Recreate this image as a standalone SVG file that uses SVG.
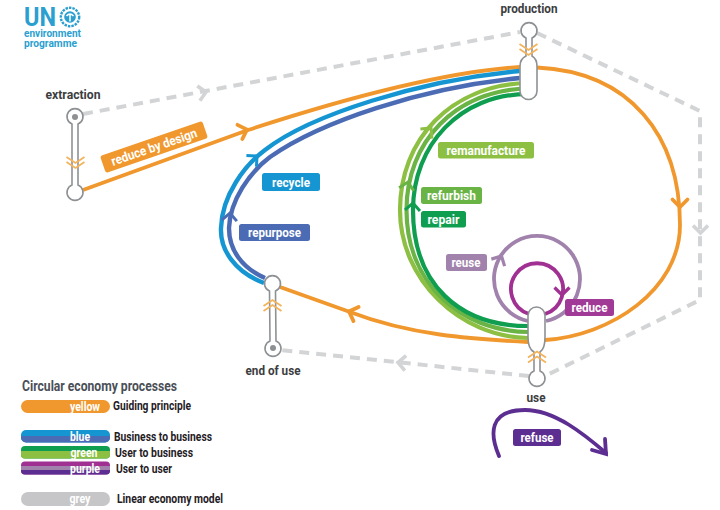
<svg xmlns="http://www.w3.org/2000/svg" xmlns:xlink="http://www.w3.org/1999/xlink" width="720" height="510" viewBox="0 0 720 510">
<style>
text{font-family:Roboto,"Liberation Sans",sans-serif;font-weight:700}
.l{fill:none;stroke-linecap:butt}
.a{fill:none;stroke-linecap:round;stroke-linejoin:miter}
.or{stroke:#f0982d;stroke-width:3.8}
.bl{stroke:#1596d2;stroke-width:4.4}
.in{stroke:#4b6cb4;stroke-width:4.4}
.li{stroke:#8dbf43;stroke-width:4.2}
.mi{stroke:#6ab345;stroke-width:4.2}
.dk{stroke:#0f9e50;stroke-width:4.2}
.ru{stroke:#a082ac;stroke-width:3.8}
.rd{stroke:#a03193;stroke-width:3.8}
.rf{stroke:#5d2e91;stroke-width:3.8;stroke-linecap:round}
.gr{stroke:#d3d4d6;stroke-width:4;stroke-dasharray:10 7;fill:none}
.gh{stroke:#d3d4d6;stroke-width:3.6;fill:none}
.n{fill:#fff;stroke:#8e9194;stroke-width:1.6}
.dot{fill:#8e9194}
.ch{fill:none;stroke:#f3b35c;stroke-width:1.8}
.nl{fill:#3c3d40;font-size:13px;text-anchor:middle}
.pl{fill:#fff;font-size:13px;text-anchor:middle}
.lg{fill:#1f2024;font-size:12.5px}
.lp{fill:#fff;font-size:13px;text-anchor:middle}
.logo{fill:#2a9fd0}
</style>
<defs>
<path id="ah" d="M-7.500,-7.500 L0,0 L-7.500,7.500"/>
<path id="cd" d="M-9,-5 L0,1 L9,-5 M-9,0 L0,6 L9,0"/>
</defs>

<g id="logo">
<text class="logo" x="24" y="26" font-size="25" textLength="32" lengthAdjust="spacingAndGlyphs">UN</text>
<circle cx="70" cy="17" r="9.200" fill="none" stroke="#2a9fd0" stroke-width="2.400" stroke-dasharray="2.500 1"/>
<circle cx="70" cy="17" r="5.800" fill="#2a9fd0"/>
<path d="M66.500,16 Q70,12 73.500,16 M70,14 V21.500" fill="none" stroke="#fff" stroke-width="1.500"/>
<text class="logo" x="24" y="37" font-size="10" textLength="57" lengthAdjust="spacingAndGlyphs">environment</text>
<text class="logo" x="24" y="47" font-size="10" textLength="53" lengthAdjust="spacingAndGlyphs">programme</text>
</g>

<g id="connectors">
<g id="linear">
<path class="gr" d="M83,114 L520,32"/>
<path class="gr" d="M537,33 L700,111 L700,300 L545,376"/>
<path class="gr" d="M529,376 L281,350"/>
<use xlink:href="#ah" class="gh" transform="translate(206,92) rotate(-10)"/>
<use xlink:href="#ah" class="gh" transform="translate(700.500,233) rotate(90)"/>
<use xlink:href="#ah" class="gh" transform="translate(398,362.500) rotate(185)"/>
</g>
<g id="orange">
<path class="l or" d="M83,190 L248,130 C340,100 440,72 520,67"/>
<path class="l or" d="M537,67.500 C630,72 680,135 680,225 C680,290 610,336 545,340"/>
<path class="l or" d="M528,342 C470,339 410,335 350,312 L280,287"/>
<use xlink:href="#ah" class="a or" transform="translate(247,129.500) rotate(-19)"/>
<use xlink:href="#ah" class="a or" transform="translate(680,207) rotate(90)"/>
<use xlink:href="#ah" class="a or" transform="translate(349,311.500) rotate(200)"/>
</g>
<g id="blue">
<path class="l bl" d="M264,283 C235,272 220,250 221,228 C222,195 245,165 265,150 C310,115 420,80 520,71"/>
<path class="l in" d="M265,278 C242,268 229,250 229,228 C230,200 250,172 270,157 C320,122 420,88 520,78"/>
<use xlink:href="#ah" stroke-width="3" stroke="#1596d2" fill="none" transform="translate(257,156) rotate(-42)"/>
<use xlink:href="#ah" stroke-width="3" stroke="#4b6cb4" fill="none" transform="translate(230,213) rotate(-85)"/>
</g>
<g id="green">
<path class="l li" d="M528,83 C450,85 400,140 400,210 C400,280 460,337 528,338"/>
<path class="l mi" d="M528,88.500 C455,90 406.500,142 406.500,210 C406.500,283 460,331 528,332"/>
<path class="l dk" d="M528,94 C460,94 413,145 413,210 C413,285 460,326 528,326"/>
<use xlink:href="#ah" stroke-width="3" stroke="#8dbf43" fill="none" transform="translate(431,128) rotate(-50)"/>
<use xlink:href="#ah" stroke-width="3" stroke="#6ab345" fill="none" transform="translate(408,182) rotate(-78)"/>
<use xlink:href="#ah" stroke-width="3" stroke="#0f9e50" fill="none" transform="translate(413,203) rotate(-86)"/>
</g>
<g id="purple">
<path class="l ru" d="M528,321 A43,43 0 1 1 546,321"/>
<path class="l rd" d="M529,314 A26,26 0 1 1 545,314"/>
<use xlink:href="#ah" stroke-width="3.200" stroke="#a082ac" fill="none" transform="translate(501.500,256) rotate(-62)"/>
<use xlink:href="#ah" stroke-width="3.200" stroke="#a03193" fill="none" transform="translate(562,295) rotate(90)"/>
<path class="l rf" d="M499,456 C490,435 488,410 525,410 C555,410 585,435 606,453"/>
<path class="a rf" d="M605,439 L606,454 L592,450"/>
</g>
</g>

<g id="extraction">
<path class="n" d="M72,124 A8,8 0 1 1 78,124 L78,185 A8,8 0 1 1 72,185 Z"/>
<circle class="dot" cx="75" cy="117" r="3"/>
<use xlink:href="#cd" class="ch" transform="translate(75.500,162)"/>
<text class="nl" x="73" y="99" textLength="55" lengthAdjust="spacingAndGlyphs">extraction</text>
</g>
<g id="production">
<path class="n" d="M526,38 A8,8 0 1 1 532,38 L532,56 Q537,59 537,66 L537,91 A8.500,8.500 0 0 1 520,91 L520,66 Q520,59 526,56 Z"/>
<use xlink:href="#cd" class="ch" transform="translate(528.500,49)"/>
<text class="nl" x="529" y="13" textLength="57" lengthAdjust="spacingAndGlyphs">production</text>
</g>
<g id="use">
<path class="n" d="M534,371 A8,8 0 1 0 540,371 L540,352 Q545,349 545,337 L545,315.500 A8.500,8.500 0 0 0 528,315.500 L528,337 Q528,349 534,352 Z"/>
<use xlink:href="#cd" class="ch" transform="translate(537,357.500) scale(1,-1)"/>
<text class="nl" x="536" y="402" textLength="19" lengthAdjust="spacingAndGlyphs">use</text>
</g>
<g id="end-of-use">
<path class="n" d="M269.500,291 A8,8 0 1 1 275.500,291 L276,341 A8,8 0 1 1 270,341 Z"/>
<circle class="dot" cx="273" cy="348" r="3"/>
<use xlink:href="#cd" class="ch" transform="translate(272.500,306) scale(1,-1)"/>
<text class="nl" x="273" y="375" textLength="55" lengthAdjust="spacingAndGlyphs">end of use</text>
</g>

<g id="reduce-by-design" transform="translate(154,147) rotate(-19)">
<rect x="-54" y="-9" width="108" height="18" rx="2.500" fill="#f0982d"/>
<text class="pl" y="4.500" textLength="90" lengthAdjust="spacingAndGlyphs">reduce by design</text>
</g>
<g id="remanufacture"><rect x="438" y="142" width="96" height="16.500" rx="2.500" fill="#8dbf43"/><text class="pl" x="486" y="154.500" textLength="79" lengthAdjust="spacingAndGlyphs">remanufacture</text></g>
<g id="refurbish"><rect x="421" y="187" width="61" height="17" rx="2.500" fill="#6ab345"/><text class="pl" x="451.500" y="200" textLength="49" lengthAdjust="spacingAndGlyphs">refurbish</text></g>
<g id="repair"><rect x="421" y="211" width="45" height="16.500" rx="2.500" fill="#0f9e50"/><text class="pl" x="443.500" y="224" textLength="32" lengthAdjust="spacingAndGlyphs">repair</text></g>
<g id="recycle"><rect x="262" y="173" width="58" height="18" rx="2.500" fill="#1596d2"/><text class="pl" x="291" y="186.500" textLength="38" lengthAdjust="spacingAndGlyphs">recycle</text></g>
<g id="repurpose"><rect x="239" y="224" width="71" height="17" rx="2.500" fill="#4b6cb4"/><text class="pl" x="274.500" y="237" textLength="53" lengthAdjust="spacingAndGlyphs">repurpose</text></g>
<g id="reuse"><rect x="446" y="254" width="41" height="17" rx="2.500" fill="#a082ac"/><text class="pl" x="466" y="267" textLength="29" lengthAdjust="spacingAndGlyphs">reuse</text></g>
<g id="reduce"><rect x="565" y="299" width="49" height="17" rx="2.500" fill="#a13a96"/><text class="pl" x="589.500" y="312" textLength="36" lengthAdjust="spacingAndGlyphs">reduce</text></g>
<g id="refuse"><rect x="513" y="429" width="48" height="17" rx="2.500" fill="#5d2e91"/><text class="pl" x="537" y="442" textLength="33" lengthAdjust="spacingAndGlyphs">refuse</text></g>

<g id="legend">
<text x="22" y="391" font-size="14" fill="#4a4f57" textLength="155" lengthAdjust="spacingAndGlyphs">Circular economy processes</text>
<rect x="21" y="400" width="89" height="13" rx="6.500" fill="#f0982d"/>
<text class="lp" x="85" y="411" textLength="30" lengthAdjust="spacingAndGlyphs">yellow</text>
<text class="lg" x="113" y="410" textLength="78" lengthAdjust="spacingAndGlyphs">Guiding principle</text>
<rect x="21" y="430" width="89" height="12.500" rx="5" fill="#1596d2"/>
<path d="M21,436 H110 V437.500 A5,5 0 0 1 105,442.500 H26 A5,5 0 0 1 21,437.500 Z" fill="#4b6cb4"/>
<text class="lp" x="80" y="441" textLength="20" lengthAdjust="spacingAndGlyphs">blue</text>
<text class="lg" x="114" y="441" textLength="98" lengthAdjust="spacingAndGlyphs">Business to business</text>
<rect x="21" y="446" width="89" height="12.500" rx="4" fill="#0f9e50"/>
<path d="M21,451 H110 V454.500 A4,4 0 0 1 106,458.500 H25 A4,4 0 0 1 21,454.500 Z" fill="#8dbf43"/>
<text class="lp" x="84" y="457" textLength="27" lengthAdjust="spacingAndGlyphs">green</text>
<text class="lg" x="115" y="457" textLength="78" lengthAdjust="spacingAndGlyphs">User to business</text>
<rect x="21" y="461.500" width="89" height="13" rx="4" fill="#a03193"/>
<rect x="21" y="466" width="89" height="4" fill="#a082ac"/>
<path d="M21,470 H110 V470.500 A4,4 0 0 1 106,474.500 H25 A4,4 0 0 1 21,470.500 Z" fill="#5d2e91"/>
<text class="lp" x="85" y="473" textLength="30" lengthAdjust="spacingAndGlyphs">purple</text>
<text class="lg" x="116" y="473" textLength="56" lengthAdjust="spacingAndGlyphs">User to user</text>
<rect x="21" y="492" width="89" height="14" rx="7" fill="#c6c6c8"/>
<text class="lp" x="80" y="503" textLength="21" lengthAdjust="spacingAndGlyphs">grey</text>
<text class="lg" x="117" y="503" textLength="106" lengthAdjust="spacingAndGlyphs">Linear economy model</text>
</g>
</svg>
